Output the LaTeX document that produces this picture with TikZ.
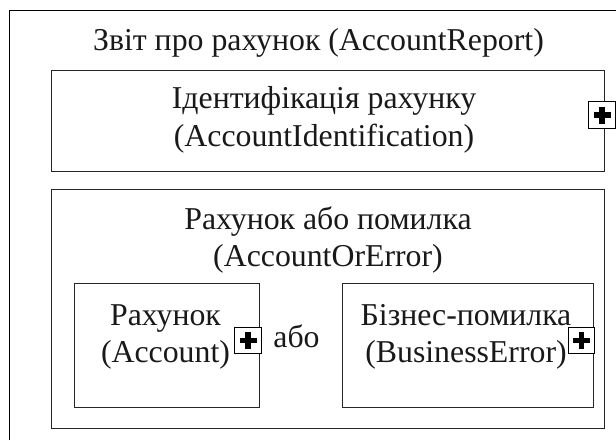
\documentclass[tikz,border=0pt]{standalone}
\usepackage{fontspec}
\setmainfont{Liberation Serif}
\usetikzlibrary{calc}
\tikzset{
  px/.style={x=1pt,y=-1pt},
  framebox/.style={draw=black!85,line width=1pt,fill=white},
  lbl/.style={inner sep=0pt,align=center,font=\fontsize{31.8}{37.5}\selectfont,text=black!90},
  plusbox/.style={draw=black,line width=1.3pt,fill=white,minimum size=26.5pt,inner sep=0pt},
  plusbar/.style={fill=black,draw=none},
}
\newcommand{\plusmark}[1]{%
  \fill[plusbar] ($(#1)+(-8.5,-2.7)$) rectangle ($(#1)+(8.5,2.7)$);
  \fill[plusbar] ($(#1)+(-2.7,-8.5)$) rectangle ($(#1)+(2.7,8.5)$);
}
\begin{document}
\begin{tikzpicture}[px]
\useasboundingbox (0,0) rectangle (616,440);
\fill[white] (0,0) rectangle (616,440);
\coordinate (ob) at (9.5,440);
\coordinate (ol) at (9.5,10.5);
\coordinate (or) at (616,10.5);
\draw[black,line width=1pt] (ob) -- (ol) -- (or);
\node[lbl] (title) at (318.5,43) {Звіт про рахунок (AccountReport)};
\node[framebox,minimum width=553.5pt,minimum height=100.5pt,anchor=north west] (ident) at (50.5,70) {};
\node[lbl] (identl) at (324,120) {Ідентифікація рахунку\\(AccountIdentification)};
\node[plusbox] (p1) at (602,115) {};
\plusmark{p1}
\node[framebox,minimum width=553pt,minimum height=239pt,anchor=north west] (aoe) at (51,188.5) {};
\node[lbl] (aoel) at (328,240) {Рахунок або помилка\\(AccountOrError)};
\node[framebox,minimum width=185pt,minimum height=124pt,anchor=north west] (acc) at (73.5,283) {};
\node[lbl] (accl) at (165.5,337) {Рахунок\\(Account)};
\node[plusbox] (p2) at (248,340.5) {};
\plusmark{p2}
\node[lbl] (or1) at (296.5,336) {або};
\node[framebox,minimum width=251pt,minimum height=124pt,anchor=north west] (be) at (341.5,283) {};
\node[lbl] (bel) at (466,337) {Бізнес-помилка\\(BusinessError)};
\node[plusbox] (p3) at (581.5,340.5) {};
\plusmark{p3}
\end{tikzpicture}
\end{document}
